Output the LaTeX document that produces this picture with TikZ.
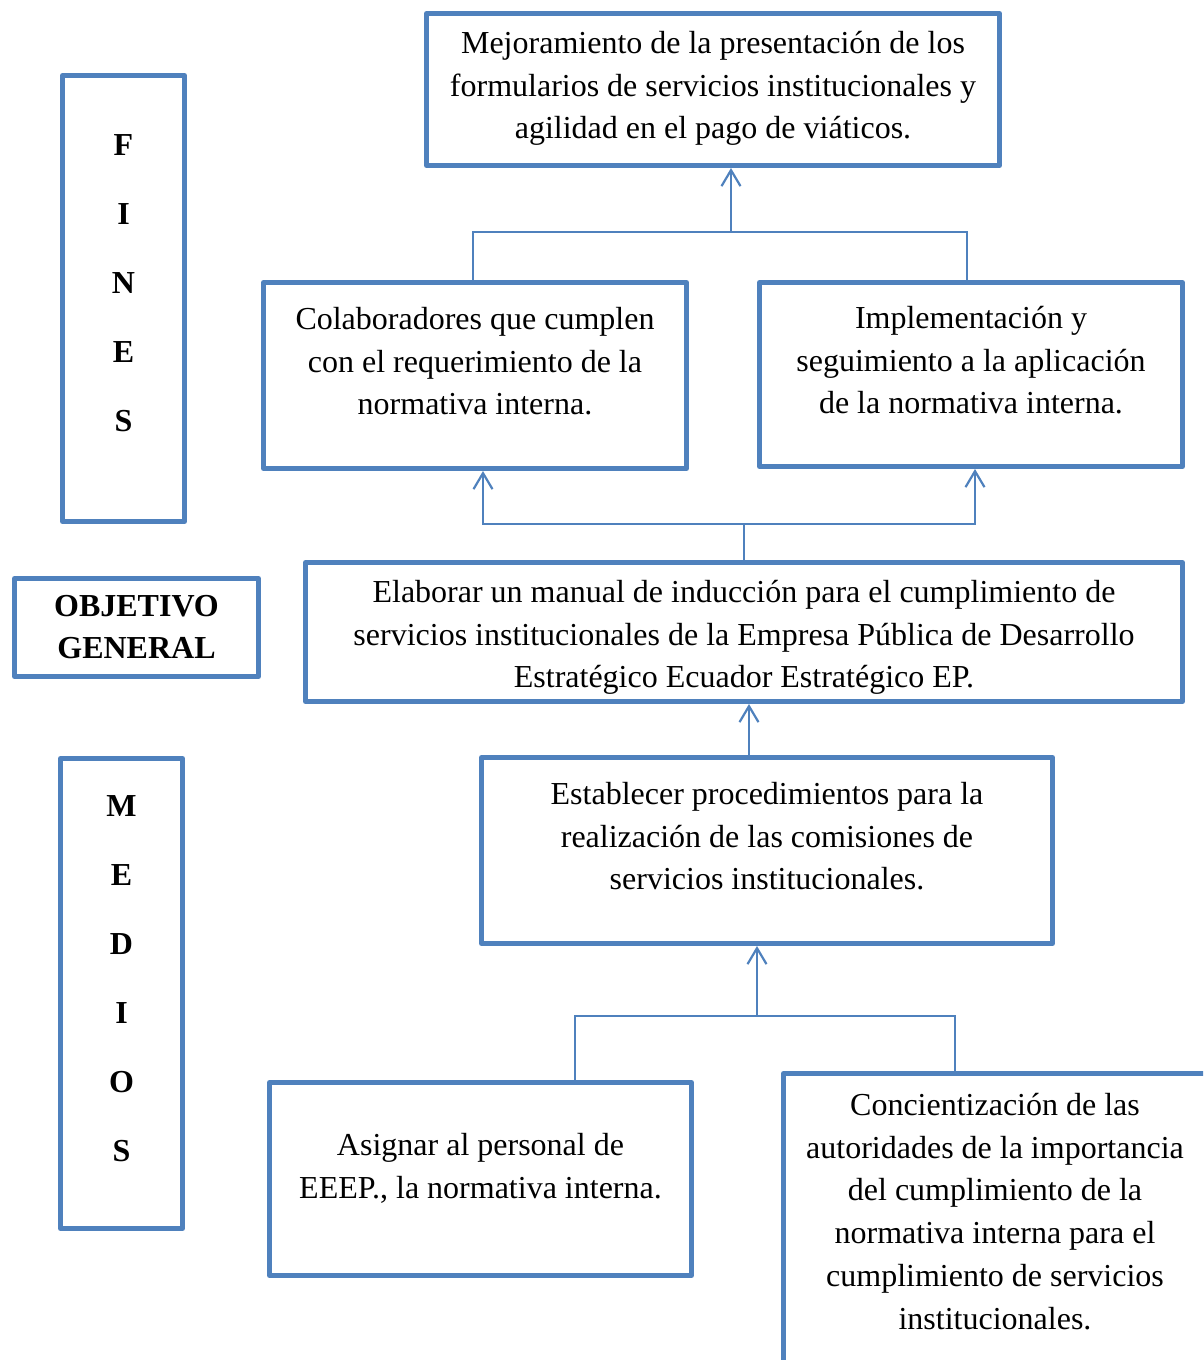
\documentclass[tikz,border=0pt]{standalone}
\usepackage{fontspec}
\setmainfont{Liberation Serif}
\usetikzlibrary{arrows.meta}
\definecolor{boxblue}{HTML}{4F81BD}

\begin{document}
\begin{tikzpicture}[x=1pt,y=-1pt,
    box/.style={draw=boxblue, line width=5pt, line join=round, align=flush center,
      inner sep=0pt, font=\fontsize{32}{42.7}\selectfont},
    topbox/.style={box, anchor=north, text height=24},
    sidebox/.style={topbox, text width=122, font=\fontsize{32}{69}\selectfont\bfseries},
    link/.style={draw=boxblue, line width=2.2pt},
    >={Straight Barb[length=16pt,width=19pt]}]

    % Fix the page and cut off what runs past it
    \useasboundingbox (0,0) rectangle (1203,1360);
    \clip (0,0) rectangle (1203,1360);

    % Side labels
    \node[sidebox, inner ysep=56, text depth=310] (fines) at (123.5,73) {F\\I\\N\\E\\S};
    \node[box, font=\fontsize{32}{42}\selectfont\bfseries, minimum width=244, minimum height=98] (objetivo) at (136.5,627.5) {OBJETIVO\\GENERAL};
    \node[sidebox, inner ysep=34, text depth=378] (medios) at (121.5,756) {M\\E\\D\\I\\O\\S};

    % Fines
    \node[topbox, text width=573, inner ysep=16, text depth=96] (mejora) at (713,11)
      {Mejoramiento de la presentación de los\\formularios de servicios institucionales y\\agilidad en el pago de viáticos.};
    \node[topbox, text width=423, inner ysep=23, text depth=116] (colab) at (475,280)
      {Colaboradores que cumplen\\con el requerimiento de la\\normativa interna.};
    \node[topbox, text width=423, inner ysep=22, text depth=116] (implem) at (971,280)
      {Implementación y\\seguimiento a la aplicación\\de la normativa interna.};

    % Objetivo general
    \node[topbox, text width=877, inner ysep=16, text depth=83] (manual) at (744,560)
      {Elaborar un manual de inducción para el cumplimiento de\\servicios institucionales de la Empresa Pública de Desarrollo\\Estratégico Ecuador Estratégico EP.};

    % Medios
    \node[topbox, text width=571, inner ysep=23, text depth=116] (proced) at (767,755)
      {Establecer procedimientos para la\\realización de las comisiones de\\servicios institucionales.};
    \node[topbox, text width=422, inner ysep=49, text depth=71] (asignar) at (480.5,1080)
      {Asignar al personal de\\EEEP., la normativa interna.};
    \node[topbox, text width=423, inner ysep=18, text depth=320] (concien) at (995,1071)
      {Concientización de las\\autoridades de la importancia\\del cumplimiento de la\\normativa interna para el\\cumplimiento de servicios\\institucionales.};

    % Connect the fines
    \coordinate (finJ) at (731,232);
    \draw[link] ([xshift=-2]colab.north) |- (finJ) -| ([xshift=-4]implem.north);
    \draw[link,->] (finJ) -- (finJ |- mejora.south);

    % Connect the objetivo to the fines
    \coordinate (objJ) at (744,524);
    \draw[link,->] (objJ) -| ([xshift=8]colab.south);
    \draw[link,->] (objJ) -| ([xshift=4]implem.south);
    \draw[link] (objJ) -- (manual.north);

    % Connect the medios
    \draw[link,->] ([xshift=-18]proced.north) -- ([xshift=-18]proced.north |- manual.south);
    \coordinate (medJ) at (757,1016);
    \draw[link] ([xshift=94.5]asignar.north) |- (medJ) -| ([xshift=-40]concien.north);
    \draw[link,->] (medJ) -- (medJ |- proced.south);

\end{tikzpicture}
\end{document}
